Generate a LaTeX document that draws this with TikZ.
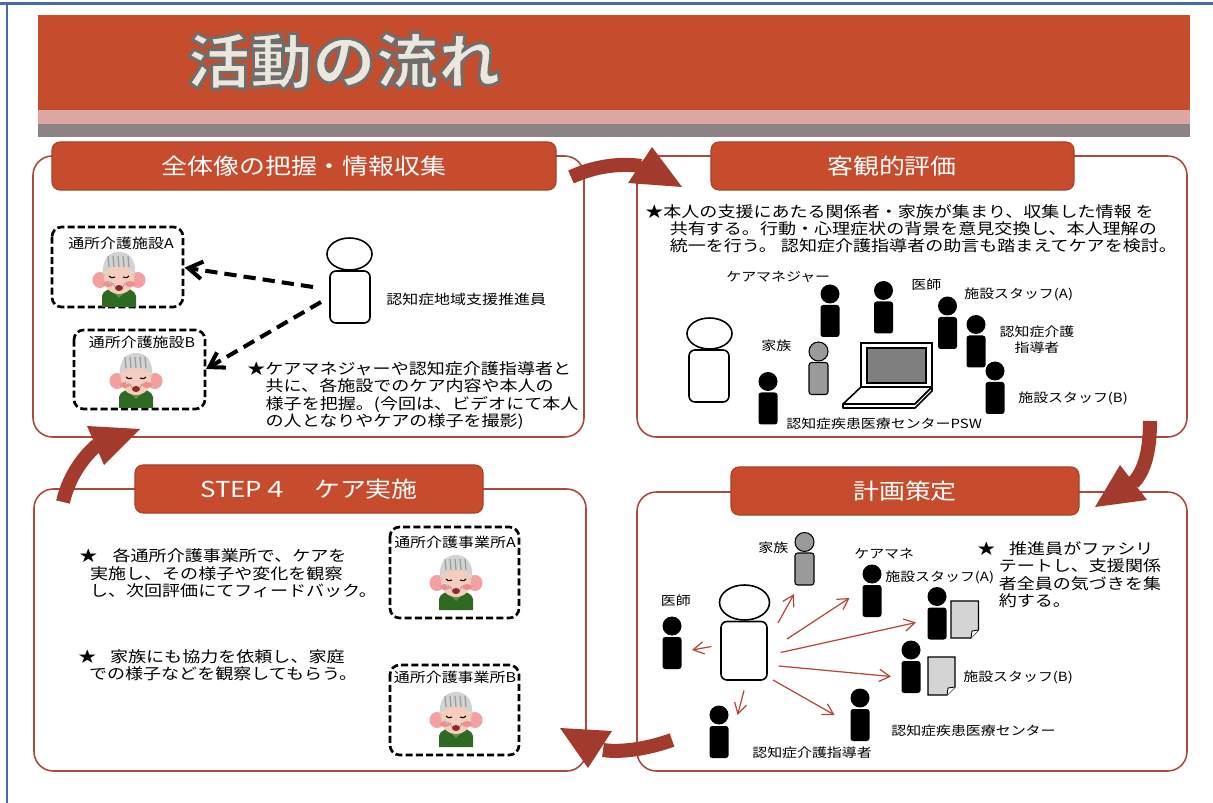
\documentclass[tikz,border=0pt]{standalone}
\usepackage{fontspec}
\setmainfont[FakeStretch=1.18]{Noto Sans CJK JP}
\newfontfamily\titlefont[FakeStretch=1.05]{Noto Sans CJK JP}
\usetikzlibrary{arrows.meta}

\definecolor{frameblue}{HTML}{4A69A8}
\definecolor{bannerred}{HTML}{C54C2C}
\definecolor{bandpink}{HTML}{DCA7A3}
\definecolor{bandgray}{HTML}{8D8285}
\definecolor{tabred}{HTML}{C64C2D}
\definecolor{tabedge}{HTML}{A8402A}
\definecolor{panelline}{HTML}{AA4A3E}
\definecolor{arrowred}{HTML}{A33A2E}
\definecolor{thinred}{HTML}{B5473A}
\definecolor{kingray}{HTML}{9A9A9A}
\definecolor{screengray}{HTML}{7F7F7F}
\definecolor{paper}{HTML}{D4D4D4}
\definecolor{titlefill}{HTML}{ECE7DC}
\definecolor{shirt}{HTML}{2E6A24}
\definecolor{collar}{HTML}{5E9440}
\definecolor{ear}{HTML}{F2A0A0}
\definecolor{skin}{HTML}{F6CDBD}
\definecolor{hair}{HTML}{D2D2D2}
\definecolor{hairline}{HTML}{9C9C9C}
\definecolor{cheek}{HTML}{F08C8C}
\definecolor{mouth}{HTML}{8B2A2A}
\definecolor{tear}{HTML}{A8D4F0}

% outlined title lettering: fill, then a gray stroke round each glyph
\newcommand\outlined[1]{\special{pdf:literal direct q 2 Tr 1.6 w 0.43 0.43 0.43 RG}#1\special{pdf:literal direct Q}}

\tikzset{
  panel/.style={draw=panelline, line width=0.9pt, rounded corners=11pt},
  tabbox/.style={fill=tabred, draw=tabedge, line width=0.6pt, rounded corners=4.5pt},
  tabtext/.style={text=white, inner sep=0pt, font=\fontsize{12.5pt}{14pt}\selectfont},
  titletext/.style={text=titlefill, inner sep=0pt, font=\titlefont\bfseries\fontsize{34pt}{36pt}\selectfont},
  body/.style={inner sep=0pt, anchor=north west, align=left, font=\fontsize{8.7pt}{9.85pt}\selectfont},
  tag/.style={inner sep=0pt, anchor=west, font=\fontsize{7.2pt}{9pt}\selectfont},
  bigtag/.style={inner sep=0pt, anchor=west, font=\fontsize{7.7pt}{9pt}\selectfont},
  boxtag/.style={inner sep=0pt, font=\fontsize{7.7pt}{9pt}\selectfont},
  dashbox/.style={draw, line width=1.5pt, dash pattern=on 4pt off 1.8pt, rounded corners=5.5pt},
  visit/.style={line width=2.3pt, dash pattern=on 7pt off 4pt, -{Straight Barb[length=8pt,width=10pt]}},
  share/.style={draw=thinred, line width=0.7pt, -{Straight Barb[length=6pt,width=7pt]}},
  loopshaft/.style={draw=arrowred, line width=8pt},
  loophead/.style={fill=arrowred},
  bigman/.style={draw, fill=white, line width=0.9pt},
  person/.pic={
    \path[pic actions] (0,0) circle[radius=9.5];
    \path[pic actions, rounded corners=1.5pt] (-9.5,11) rectangle (9.5,43);
  },
  oldman/.pic={
    % shirt and collar
    \fill[shirt] (-17,28) -- (-17,17) .. controls (-16,11) and (-9,9) .. (0,9)
      .. controls (9,9) and (16,11) .. (17,17) -- (17,28) -- cycle;
    \fill[collar] (-9,10) -- (0,19) -- (9,10) -- (5,9) -- (0,14) -- (-5,9) -- cycle;
    % ears and face
    \fill[ear] (-19,1) ellipse[x radius=7.5, y radius=8];
    \fill[ear] (19,1) ellipse[x radius=7.5, y radius=8];
    \fill[skin] (0,0) ellipse[x radius=15, y radius=15];
    % hair
    \fill[hair] (-16,-2) .. controls (-18,-22) and (-8,-27) .. (0,-27)
      .. controls (8,-27) and (18,-22) .. (16,-2)
      .. controls (14,-10) and (8,-12) .. (0,-12)
      .. controls (-8,-12) and (-14,-10) .. (-16,-2) -- cycle;
    \foreach \s in {-11,-6,-1,4,9}
      \draw[hairline, line width=0.7pt] (\s,-23) -- (\s+1,-12);
    % cheeks, eyes, mouth
    \fill[cheek] (-11,5) ellipse[x radius=5, y radius=3];
    \fill[cheek] (11,5) ellipse[x radius=5, y radius=3];
    \draw[line width=0.6pt] (-10,-3) .. controls (-8,-1) .. (-4,-2);
    \draw[line width=0.6pt] (10,-3) .. controls (8,-1) .. (4,-2);
    \draw[hairline, line width=0.4pt] (-6,4) -- (-4,8) (6,4) -- (4,8);
    \fill[mouth] (0,9) ellipse[x radius=4, y radius=3];
    \fill[tear] (-9,3) circle[radius=1.5];
  }
}

\begin{document}
\begin{tikzpicture}[x=0.02cm, y=-0.02cm]
\useasboundingbox (0,0) rectangle (1213,803);
\fill[white] (0,0) rectangle (1213,803);
\draw[frameblue, line width=1.2pt] (0,3.5) -- (1213,3.5);
\draw[frameblue, line width=1.2pt] (7,3.5) -- (7,803);

% banner
\fill[bannerred] (38,15) rectangle (1190,110);
\fill[bandpink] (38,110) rectangle (1190,124);
\fill[bandgray] (38,124) rectangle (1190,137);
\node[titletext] (ttl) at (344,61) {\outlined{活動の流れ}};

% panels and their headers
\draw[panel] (33,156) rectangle (584,437);
\draw[panel] (637,156) rectangle (1187,437);
\draw[panel] (34,489) rectangle (586,771);
\draw[panel] (637,492) rectangle (1187,771);

\draw[tabbox] (52,142) rectangle (556,190);
\node[tabtext] (hd1) at (304,166) {全体像の把握・情報収集};
\draw[tabbox] (711,142) rectangle (1074,190);
\node[tabtext] (hd2) at (892,166) {客観的評価};
\draw[tabbox] (135,465) rectangle (483,513);
\node[tabtext] (hd3) at (309,489) {STEP４　ケア実施};
\draw[tabbox] (731,467) rectangle (1079,515);
\node[tabtext] (hd4) at (905,491) {計画策定};

% --- gathering ---
\draw[dashbox] (52,227) rectangle (183,307);
\node[boxtag] (siteA) at (121,243) {通所介護施設A};
\pic at (119,279) {oldman};
\draw[dashbox] (74,330) rectangle (205,409);
\node[boxtag] (siteB) at (142,342) {通所介護施設B};
\pic at (136,380) {oldman};

\draw[bigman] (349.5,254) ellipse[x radius=22.5, y radius=16];
\draw[bigman, rounded corners=3.4pt] (330,271) rectangle (370,323);
\node[bigtag] (lead) at (386,299) {認知症地域支援推進員};

\coordinate (leadA) at (313,287);
\coordinate (boxA) at (184.5,267.6);
\coordinate (leadB) at (321,302);
\coordinate (boxB) at (206,369);
\draw[visit] (leadA) -- (boxA);
\draw[visit] (leadB) -- (boxB);

\node[body] (note1) at (247,361.4) {★ケアマネジャーや認知症介護指導者と\\
  \hspace*{1.2em}共に、各施設でのケア内容や本人の\\
  \hspace*{1.2em}様子を把握。(今回は、ビデオにて本人\\
  \hspace*{1.2em}の人となりやケアの様子を撮影)};

% --- review meeting ---
\node[body] (note2) at (645,204) {★本人の支援にあたる関係者・家族が集まり、収集した情報 を\\
  \hspace*{1.6em}共有する。行動・心理症状の背景を意見交換し、本人理解の\\
  \hspace*{1.6em}統一を行う。 認知症介護指導者の助言も踏まえてケアを検討。};

\draw[bigman] (709.5,333.5) ellipse[x radius=22.5, y radius=15.5];
\draw[bigman, rounded corners=3.4pt] (689,350) rectangle (729,402);

\pic[fill=black] at (830,294) {person};
\pic[fill=black] at (883.5,290.5) {person};
\pic[fill=black] at (947.5,306) {person};
\pic[fill=black] at (976,324.5) {person};
\pic[fill=black] at (995,371) {person};
\pic[fill=black] at (768,381.5) {person};
\pic[fill=kingray, draw=black, line width=0.6pt] at (818.5,351.5) {person};

% laptop
\draw[line width=0.9pt, fill=white] (861,343) rectangle (932,387);
\draw[line width=0.6pt, fill=screengray] (867,348) rectangle (926,383);
\draw[line width=0.9pt, fill=white, line join=round]
  (861,387) -- (932,387) -- (915,404) -- (843,404) -- cycle;
\draw[line width=0.9pt, fill=white, line join=round]
  (843,404) -- (915,404) -- (932,387) -- (932,391) -- (915,408) -- (843,408) -- cycle;

\node[tag] (cm2) at (726,277) {ケアマネジャー};
\node[tag] (dr2) at (911,285) {医師};
\node[tag] (sa2) at (964,294) {施設スタッフ(A)};
\node[tag, anchor=center, align=center, font=\fontsize{7.2pt}{9.1pt}\selectfont] (gd2) at (1037,340) {認知症介護\\指導者};
\node[tag] (kin2) at (761,346) {家族};
\node[tag] (sb2) at (1018,398) {施設スタッフ(B)};
\node[tag] (psw2) at (786,424) {認知症疾患医療センターPSW};

% --- care ---
\node[body] (note3) at (79,548.4) {★\hspace{1em}各通所介護事業所で、ケアを\\
  \hspace*{0.7em}実施し、その様子や変化を観察\\
  \hspace*{0.7em}し、次回評価にてフィードバック。};
\node[body] (note4) at (78,649.4) {★\hspace{0.9em}家族にも協力を依頼し、家庭\\
  \hspace*{0.7em}での様子などを観察してもらう。};

\draw[dashbox] (390,527) rectangle (519,618);
\node[boxtag] (officeA) at (455,542) {通所介護事業所A};
\pic at (456,582) {oldman};
\draw[dashbox] (390,665) rectangle (519,755);
\node[boxtag] (officeB) at (455,677) {通所介護事業所B};
\pic at (456,719) {oldman};

% --- planning ---
\draw[bigman] (744.5,602.5) ellipse[x radius=25, y radius=17.5];
\draw[bigman, rounded corners=3.4pt] (721,621.5) rectangle (767,680);

\pic[fill=kingray, draw=black, line width=0.6pt] at (804.5,542) {person};
\pic[fill=black] at (872,574) {person};
\pic[fill=black] at (937,596.5) {person};
\pic[fill=black] at (911,650) {person};
\pic[fill=black] at (672,626) {person};
\pic[fill=black] at (719,715) {person};
\pic[fill=black] at (860,698) {person};

\draw[fill=paper, line width=0.6pt] (951,601) -- (978.5,601) -- (978.5,630) -- (971,638) -- (951,638) -- cycle;
\draw[fill=white, line width=0.5pt] (978.5,630) -- (972,631) -- (971,638);
\draw[fill=paper, line width=0.6pt] (928,657) -- (955,657) -- (955,687) -- (947,695) -- (928,695) -- cycle;
\draw[fill=white, line width=0.5pt] (955,687) -- (948,688) -- (947,695);

\node[tag] (kin4) at (758,547.6) {家族};
\node[tag] (cm4) at (854,554) {ケアマネ};
\node[tag] (sa4) at (885,577.6) {施設スタッフ(A)};
\node[tag] (sb4) at (963,677.5) {施設スタッフ(B)};
\node[tag] (dr4) at (660.6,600.5) {医師};
\node[tag] (gd4) at (752,753) {認知症介護指導者};
\node[tag] (ctr4) at (891,731) {認知症疾患医療センター};

\node[body] (note5) at (977,541.4) {★\hspace{0.9em}推進員がファシリ\\
  \hspace*{1.4em}テートし、支援関係\\
  \hspace*{1.4em}者全員の気づきを集\\
  \hspace*{1.4em}約する。};

\coordinate (fromkin) at (778,623);     \coordinate (tokin) at (794,594);
\coordinate (fromcm) at (787,639);      \coordinate (tocm) at (849.5,598);
\coordinate (fromsa) at (780.6,652.5);  \coordinate (tosa) at (916,622.5);
\coordinate (fromsb) at (778.7,666);    \coordinate (tosb) at (891,676.5);
\coordinate (fromctr) at (773,680);     \coordinate (toctr) at (834.6,715);
\coordinate (fromgd) at (744,690.5);    \coordinate (togd) at (737.6,715);
\coordinate (fromdr) at (711.4,646.5);  \coordinate (todr) at (692,650);
\foreach \w in {kin,cm,sa,sb,ctr,gd,dr}
  \draw[share] (from\w) -- (to\w);

% cycle arrows between the steps
\draw[loopshaft] (571,177) .. controls (595,166) and (620,163) .. (641,166);
\fill[loophead] (652,147) -- (682,187) -- (628,183) -- cycle;
\draw[loopshaft] (1150,421) .. controls (1150,440) and (1148,468) .. (1133,483);
\fill[loophead] (1120,465) -- (1147,500) -- (1095,507) -- cycle;
\draw[loopshaft] (672,740) .. controls (650,748) and (622,753) .. (603,750);
\fill[loophead] (560,728) -- (612,731) -- (588,768) -- cycle;
\draw[loopshaft] (63,502) .. controls (68,480) and (80,460) .. (97,445);
\fill[loophead] (87,426) -- (140,429) -- (104,465) -- cycle;
\end{tikzpicture}
\end{document}
